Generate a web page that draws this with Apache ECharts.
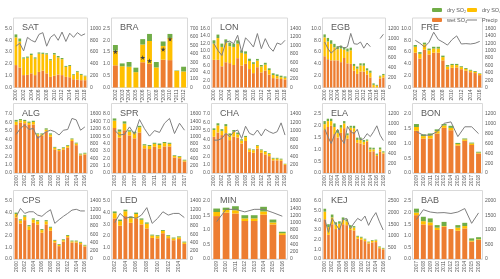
<!DOCTYPE html>
<html><head><meta charset="utf-8">
<script src="https://cdn.jsdelivr.net/npm/echarts@6/dist/echarts.min.js"></script>
<style>html,body{margin:0;padding:0;background:#fff}#c{width:500px;height:279px}</style>
</head><body><div id="c"></div>
<script>
// ---------- DATA ----------
const SAT_years = ['2000','2001','2002','2003','2004','2005','2006','2007','2008','2009','2010','2011','2012','2013','2014','2015','2016','2017','2018'];
const SAT_wet = [1.9,1.7,1.05,1.07,1.2,1.05,1.32,1.43,1.2,0.9,1.0,1.1,1.05,0.9,0.87,0.7,0.67,0.62,0.62];
const SAT_so4 = [2.35,2.2,1.4,1.45,1.55,1.4,1.55,1.42,1.6,1.4,1.8,1.45,1.35,0.85,0.95,0.35,0.63,0.45,0.33];
const SAT_so2 = [0.25,0.25,0.1,0.1,0.12,0.1,0.1,0.1,0.1,0.1,0.12,0.12,0.1,0.08,0.08,0.07,0.08,0.08,0.05];
const SAT_precip = [700,750,620,850,800,770,900,930,700,850,900,800,940,780,920,850,930,880,910];

const BRA_years = ['2002','*2003','*2004','2005','*2006','*2007','2008','*2009','2010','*2011','*2012'];
const BRA_wet = [0.94,0,0,0,1.07,1.0,0,1.18,1.16,0,0];
const BRA_so4 = [0.62,0.9,0.88,0.65,0.75,0.97,0.85,0.58,0.94,0.7,0.68];
const BRA_so2 = [0.24,0.12,0.2,0.19,0.23,0.3,0.23,0.19,0.17,0.02,0.2];
const BRA_precip = [425,null,null,null,356,316,null,453,575,null,null];

const LON_years = SAT_years;
const LON_wet = [7.5,7.5,5.75,6.85,6.6,6.1,7.95,5.95,6.4,5.0,3.9,5.5,4.1,4.6,3.5,2.55,2.45,2.3,2.2];
const LON_so4 = [4.4,5.9,5.25,5.3,4.6,4.9,3.95,3.45,2.75,2.2,2.5,1.8,1.6,1.6,1.25,0.85,0.65,0.5,0.45];
const LON_so2 = [0.9,0.95,0.9,0.9,1.0,0.9,0.9,0.65,0.65,0.6,0.45,0.45,0.4,0.5,0.45,0.45,0.45,0.4,0.35];
const LON_precip = [1040,880,760,1080,1100,1040,1240,840,1180,1080,960,1280,920,1160,960,860,1056,1020,1120];

const EGB_years = SAT_years;
const EGB_wet = [5.3,4.8,4.6,4.6,4.6,4.3,5.0,4.1,4.0,2.85,2.3,2.7,2.7,2.2,1.7,0,0,1.55,1.7];
const EGB_so4 = [3.2,3.0,2.8,2.2,1.9,2.3,1.4,2.0,2.3,0.8,0.9,1.05,1.0,0.7,0.8,0.45,0.3,0.3,0.4];
const EGB_so2 = [0.5,0.6,0.6,0.6,0.5,0.5,0.45,0.5,0.45,0.35,0.35,0.35,0.4,0.35,0.35,0.25,0.15,0.15,0.2];
const EGB_precip = [926,790,700,760,820,840,800,830,1100,890,880,925,800,905,830,null,null,995,1083];

const FRE_years = ['2002','2003','2004','2005','2006','2007','2008','2009','2010','2011','2012','2013','2014','2015','2016'];
const FRE_wet = [5.9,4.9,6.4,5.6,5.9,5.9,4.6,3.1,3.35,3.4,3.1,2.85,2.6,2.45,2.1];
const FRE_so4 = [1.0,0.8,0.9,0.7,0.7,0.7,0.55,0.45,0.45,0.4,0.35,0.3,0.25,0.2,0.2];
const FRE_so2 = [0.3,0.3,0.3,0.3,0.3,0.3,0.25,0.25,0.2,0.2,0.15,0.15,0.15,0.15,0.1];
const FRE_precip = [1280,1200,1100,1230,1500,1300,1230,1150,1300,1400,1180,1190,1180,1200,1250];

const ALG_years = ['2000','2001','2002','2003','2004','2005','2006','2007','2008','2009','2010','2011','2012','2013','2014','2015','2016'];
const ALG_wet = [5.7,6.0,5.9,5.7,5.75,4.4,4.4,4.9,4.3,2.8,2.6,2.8,3.0,3.8,3.3,2.1,2.2];
const ALG_so4 = [0.4,0.25,0.25,0.25,0.3,0.2,0.2,0.25,0.25,0.2,0.15,0.15,0.2,0.2,0.2,0.1,0.1];
const ALG_so2 = [0.2,0.15,0.15,0.15,0.15,0.1,0.1,0.15,0.15,0.1,0.1,0.1,0.1,0.1,0.1,0.1,0.1];
const ALG_precip = [1045,1210,1300,1180,1210,940,1030,1120,1160,1120,1030,1160,1180,1480,1440,1160,1250];

const SPR_years = ['2003','2004','2005','2006','2007','2008','2009','2010','2011','2012','2013','2014','2015','2016','2017'];
const SPR_wet = [6.1,4.8,5.8,5.1,4.7,5.5,3.35,3.25,3.55,3.3,3.6,3.6,2.1,2.0,1.55];
const SPR_so4 = [1.0,0.8,0.9,0.5,0.7,0.7,0.4,0.4,0.4,0.5,0.45,0.35,0.2,0.2,0.15];
const SPR_so2 = [0.3,0.3,0.3,0.2,0.2,0.2,0.15,0.15,0.15,0.2,0.15,0.15,0.1,0.1,0.1];
const SPR_precip = [1160,1030,1050,1250,1050,1450,1200,1000,1150,1100,1350,1480,1070,1350,1160];

const CHA_years = SAT_years;
const CHA_wet = [4.3,4.8,4.5,4.7,3.9,4.3,4.2,3.5,3.8,2.5,2.4,2.9,2.4,2.2,2.0,1.5,1.5,1.45,0.95];
const CHA_so4 = [0.8,0.85,0.5,0.85,0.6,0.6,0.4,0.35,0.45,0.3,0.3,0.3,0.3,0.3,0.25,0.2,0.2,0.15,0.1];
const CHA_so2 = [0.2,0.25,0.2,0.25,0.2,0.2,0.2,0.15,0.15,0.1,0.1,0.1,0.1,0.1,0.1,0.1,0.1,0.1,0.05];
const CHA_precip = [780,780,820,940,860,980,1020,820,1110,940,900,1020,880,1040,980,940,980,1190,900];

const ELA_years = SAT_years;
const ELA_wet = [1.82,1.95,2.0,1.65,1.5,1.7,1.9,1.45,1.82,1.75,1.28,1.25,1.2,1.32,0.9,0.92,0.72,0.9,0.82];
const ELA_so4 = [0.25,0.25,0.2,0.3,0.2,0.22,0.2,0.15,0.1,0.15,0.12,0.15,0.12,0.05,0.1,0.08,0.05,0.1,0.05];
const ELA_so2 = [0.13,0.1,0.1,0.15,0.12,0.11,0.1,0.08,0.08,0.1,0.1,0.1,0.08,0.05,0.08,0.07,0.05,0.08,0.05];
const ELA_precip = [900,740,600,770,890,700,600,950,840,800,890,670,700,800,740,840,960,770,660];

const BON_years = ['2009','2010','2011','2012','2013','2014','2015','2016','2017','2018'];
const BON_wet = [1.43,1.17,1.17,1.34,1.53,1.45,0.93,1.09,0.95,0.66];
const BON_so4 = [0.13,0.08,0.1,0.08,0.08,0.08,0.05,0.05,0.05,0.03];
const BON_so2 = [0.1,0.06,0.07,0.06,0.05,0.07,0.04,0.03,0.03,0.03];
const BON_precip = [840,770,770,840,1010,1040,740,940,940,800];

const CPS_years = ALG_years;
const CPS_wet = [3.58,3.07,3.35,2.5,3.12,2.98,2.27,2.98,2.44,1.42,1.11,1.5,1.87,1.42,1.42,1.28,1.08];
const CPS_so4 = [0.3,0.25,0.3,0.32,0.28,0.27,0.22,0.27,0.25,0.15,0.1,0.12,0.12,0.1,0.1,0.12,0.08];
const CPS_so2 = [0.12,0.1,0.12,0.1,0.1,0.1,0.09,0.1,0.09,0.08,0.07,0.08,0.08,0.07,0.07,0.08,0.06];
const CPS_precip = [1020,1220,1100,1140,1140,1060,1030,1120,1190,860,950,1030,1100,1180,1200,1160,1160];

const LED_years = ['2002','2003','2004','2005','2006','2007','2008','2009','2010','2011','2012','2013','2014','2015'];
const LED_wet = [3.5,2.87,3.7,3.12,3.5,2.98,2.64,1.82,1.78,2.22,1.8,1.62,1.72,1.3];
const LED_so4 = [0.45,0.4,0.42,0.4,0.38,0.4,0.4,0.2,0.19,0.2,0.17,0.15,0.15,0.13];
const LED_so2 = [0.15,0.13,0.13,0.13,0.12,0.12,0.11,0.08,0.08,0.08,0.08,0.08,0.08,0.07];
const LED_precip = [875,1100,980,1020,980,1060,1240,860,980,1140,1060,1100,1100,1000];

const MIN_years = ['2009','2010','2011','2012','2013','2014','2015','2016'];
const MIN_wet = [1.48,1.6,1.57,1.31,1.31,1.53,1.19,0.83];
const MIN_so4 = [0.14,0.09,0.11,0.09,0.09,0.11,0.07,0.06];
const MIN_so2 = [0.12,0.08,0.14,0.11,0.11,0.16,0.1,0.05];
const MIN_precip = [1030,1370,1370,1300,1370,1370,1280,1180];

const KEJ_years = ALG_years;
const KEJ_wet = [4.1,2.5,3.6,3.1,3.2,3.6,3.5,3.0,2.95,2.1,2.0,1.85,1.6,1.72,1.75,1.12,1.0];
const KEJ_so4 = [0.8,0.8,0.7,0.45,0.45,0.45,0.4,0.3,0.3,0.2,0.2,0.17,0.13,0.15,0.17,0.1,0.08];
const KEJ_so2 = [0.3,0.3,0.3,0.25,0.25,0.25,0.2,0.2,0.15,0.1,0.1,0.08,0.07,0.08,0.08,0.08,0.07];
const KEJ_precip = [1700,1150,1750,1500,1250,1700,1750,1300,1550,1750,1650,1850,1450,1770,2000,1600,1250];

const BAB_years = ['2007','2008','2009','2010','2011','2012','2013','2014','2015','2016'];
const BAB_wet = [1.89,1.49,1.46,1.25,1.39,1.29,1.22,1.32,0.75,0.82];
const BAB_so4 = [0.11,0.14,0.12,0.1,0.03,0,0.13,0.1,0.04,0.03];
const BAB_so2 = [0.17,0.19,0.17,0.11,0.18,0,0.11,0.14,0.1,0.09];
const BAB_precip = [1360,1700,1620,1590,1600,1570,1620,1740,1230,1590];

// ---------- PANELS ----------
const panels = [
  ['SAT',SAT_years,SAT_wet,SAT_so4,SAT_so2,SAT_precip,5,1,1000,200],
  ['BRA',BRA_years,BRA_wet,BRA_so4,BRA_so2,BRA_precip,2.5,0.5,700,100],
  ['LON',LON_years,LON_wet,LON_so4,LON_so2,LON_precip,16,2,1400,200],
  ['EGB',EGB_years,EGB_wet,EGB_so4,EGB_so2,EGB_precip,10,2,1200,200],
  ['FRE',FRE_years,FRE_wet,FRE_so4,FRE_so2,FRE_precip,10,2,1600,200],
  ['ALG',ALG_years,ALG_wet,ALG_so4,ALG_so2,ALG_precip,7,1,1600,200],
  ['SPR',SPR_years,SPR_wet,SPR_so4,SPR_so2,SPR_precip,8,1,1600,200],
  ['CHA',CHA_years,CHA_wet,CHA_so4,CHA_so2,CHA_precip,7,1,1400,200],
  ['ELA',ELA_years,ELA_wet,ELA_so4,ELA_so2,ELA_precip,2.5,0.5,1200,200],
  ['BON',BON_years,BON_wet,BON_so4,BON_so2,BON_precip,2,0.5,1200,200],
  ['CPS',CPS_years,CPS_wet,CPS_so4,CPS_so2,CPS_precip,5,1,1400,200],
  ['LED',LED_years,LED_wet,LED_so4,LED_so2,LED_precip,5,1,1400,200],
  ['MIN',MIN_years,MIN_wet,MIN_so4,MIN_so2,MIN_precip,2,0.5,1600,200],
  ['KEJ',KEJ_years,KEJ_wet,KEJ_so4,KEJ_so2,KEJ_precip,6,1,2500,500],
  ['BAB',BAB_years,BAB_wet,BAB_so4,BAB_so2,BAB_precip,2.5,0.5,2000,500]
];

const colL = [14,112,212,323,413], colR = [87,187,287,385,482];
const rowT = [28.5,114,201], rowB = [87.5,173,259];
const C_WET='#ED7D31', C_SO4='#FFC000', C_SO2='#70AD47', C_PR='#7F7F7F', TXT='#595959';
const FONT='Liberation Sans';
const starPath='path://M50,0 L61,35 L98,35 L68,57 L79,91 L50,70 L21,91 L32,57 L2,35 L39,35 Z';

const grid=[],xAxis=[],yAxis=[],series=[],title=[],graphic=[];
panels.forEach((p,i)=>{
  const [name,yrs,wet,so4,so2,pr,ymax,yint,rmax,rint]=p;
  const r=Math.floor(i/5), c=i%5;
  const L=colL[c], R=colR[c], T=rowT[r], B=rowB[r];
  grid.push({left:L,top:T,width:R-L,height:B-T,containLabel:false});
  graphic.push({type:'rect',z:-1,shape:{x:L-0.5,y:T-10.5,width:R-L+1,height:B-T+10.5},style:{fill:'none',stroke:'#D9D9D9',lineWidth:1}});
  title.push({text:name,left:L+3,top:T-10,textStyle:{fontSize:9,color:TXT,fontWeight:'normal',fontFamily:FONT}});
  xAxis.push({type:'category',gridIndex:i,data:yrs,axisTick:{show:false},
    axisLine:{lineStyle:{color:'#D9D9D9'}},
    axisLabel:{rotate:90,fontSize:5,color:TXT,interval:yrs.length>11?1:0,margin:2,fontFamily:FONT}});
  yAxis.push({type:'value',gridIndex:i,min:0,max:ymax,interval:yint,splitLine:{show:false},
    axisLine:{show:false},axisTick:{show:false},
    axisLabel:{fontSize:5,color:TXT,margin:2,fontFamily:FONT,formatter:v=>v.toFixed(1)}});
  yAxis.push({type:'value',gridIndex:i,position:'right',min:0,max:rmax,interval:rint,splitLine:{show:false},
    axisLine:{show:false},axisTick:{show:false},
    axisLabel:{fontSize:5,color:TXT,margin:3,fontFamily:FONT,formatter:v=>String(v)}});
  const st='s'+i;
  series.push({name:'wet SO₄',type:'bar',stack:st,xAxisIndex:i,yAxisIndex:2*i,data:wet,itemStyle:{color:C_WET},barCategoryGap:'28%'});
  series.push({name:'dry SO₄',type:'bar',stack:st,xAxisIndex:i,yAxisIndex:2*i,data:so4,itemStyle:{color:C_SO4},barCategoryGap:'28%'});
  series.push({name:'dry SO₂',type:'bar',stack:st,xAxisIndex:i,yAxisIndex:2*i,data:so2,itemStyle:{color:C_SO2},barCategoryGap:'28%'});
  if(name==='BRA'){
    series.push({name:'Precip',type:'line',xAxisIndex:i,yAxisIndex:2*i+1,data:pr,symbol:starPath,symbolSize:5,showSymbol:true,
      itemStyle:{color:'#404040'},lineStyle:{width:0},connectNulls:false,z:5});
  } else {
    series.push({name:'Precip',type:'line',xAxisIndex:i,yAxisIndex:2*i+1,data:pr,showSymbol:false,symbol:'none',
      lineStyle:{color:C_PR,width:1},itemStyle:{color:C_PR},connectNulls:false,z:5});
  }
});

const legText={fontSize:5.5,color:TXT,fontFamily:FONT};
const leg=(item,left,top)=>({data:[item],left,top,itemWidth:10,itemHeight:4,itemGap:2,textStyle:legText,selectedMode:false});
const chart=echarts.init(document.getElementById('c'),null,{renderer:'canvas'});
chart.setOption({
  animation:false,
  textStyle:{fontFamily:FONT},
  title,grid,xAxis,yAxis,series,graphic,
  legend:[
    leg('dry SO₂',427,2), leg('dry SO₄',462,2),
    leg('wet SO₄',427,12), leg({name:'Precip',icon:'path://M0,0L10,0L10,1L0,1Z'},462,12)
  ]
});
</script></body></html>
